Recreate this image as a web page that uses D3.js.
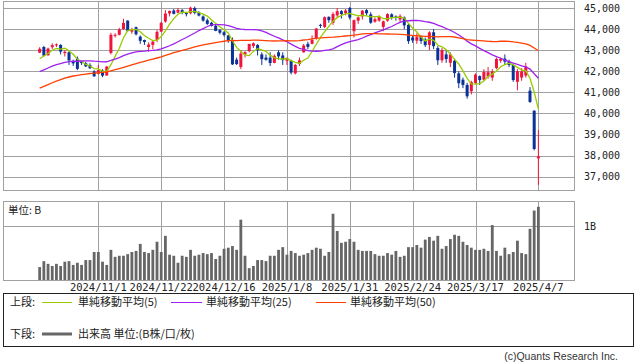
<!DOCTYPE html>
<html><head><meta charset="utf-8">
<script src="https://cdn.jsdelivr.net/npm/d3@7"></script>
<style>body{margin:0;background:#fff}svg{display:block}</style>
</head><body>
<svg id="c" width="638" height="362"></svg>
<script>
const dates=["2024/10/14","2024/10/15","2024/10/16","2024/10/17","2024/10/18","2024/10/21","2024/10/22","2024/10/23","2024/10/24","2024/10/25","2024/10/28","2024/10/29","2024/10/30","2024/10/31","2024/11/1","2024/11/4","2024/11/5","2024/11/6","2024/11/7","2024/11/8","2024/11/11","2024/11/12","2024/11/13","2024/11/14","2024/11/15","2024/11/18","2024/11/19","2024/11/20","2024/11/21","2024/11/22","2024/11/25","2024/11/26","2024/11/27","2024/11/29","2024/12/2","2024/12/3","2024/12/4","2024/12/5","2024/12/6","2024/12/9","2024/12/10","2024/12/11","2024/12/12","2024/12/13","2024/12/16","2024/12/17","2024/12/18","2024/12/19","2024/12/20","2024/12/23","2024/12/24","2024/12/26","2024/12/27","2024/12/30","2024/12/31","2025/1/2","2025/1/3","2025/1/6","2025/1/7","2025/1/8","2025/1/10","2025/1/13","2025/1/14","2025/1/15","2025/1/16","2025/1/17","2025/1/21","2025/1/22","2025/1/23","2025/1/24","2025/1/27","2025/1/28","2025/1/29","2025/1/30","2025/1/31","2025/2/3","2025/2/4","2025/2/5","2025/2/6","2025/2/7","2025/2/10","2025/2/11","2025/2/12","2025/2/13","2025/2/14","2025/2/18","2025/2/19","2025/2/20","2025/2/21","2025/2/24","2025/2/25","2025/2/26","2025/2/27","2025/2/28","2025/3/3","2025/3/4","2025/3/5","2025/3/6","2025/3/7","2025/3/10","2025/3/11","2025/3/12","2025/3/13","2025/3/14","2025/3/17","2025/3/18","2025/3/19","2025/3/20","2025/3/21","2025/3/24","2025/3/25","2025/3/26","2025/3/27","2025/3/28","2025/3/31","2025/4/1","2025/4/2","2025/4/3","2025/4/4","2025/4/7"];

const open=[42880,43150,42760,43140,43230,43250,42860,42900,42480,42600,
42460,42380,42300,41990,41880,42030,41800,42870,43700,43730,
44000,44400,43880,44090,43640,43480,43150,43250,43490,43880,
44360,44740,44880,44780,44900,44760,44750,45000,44770,44600,
44420,44300,44150,43950,43850,43700,43450,42550,42200,42800,
42950,43200,43250,42800,42650,42650,42400,42900,42750,42500,
42500,41900,42350,42900,43300,43300,43550,44200,44100,44580,
44300,44650,44850,44750,45000,43900,44400,44600,44900,44700,
44350,44400,44100,44400,44700,44600,44450,44550,44200,43600,
43450,43650,43500,43250,43850,43100,42520,42800,42400,42500,
41900,41600,41350,41050,41450,41770,41600,41750,41700,42150,
42500,42600,42450,42300,41500,41700,41800,41080,40130,37870];

const high=[43140,43200,43120,43325,43320,43280,43000,42950,42550,42700,
42500,42450,42380,42050,42300,42100,42250,43820,43800,44060,
44490,44420,44060,44120,43700,43500,43370,43470,43950,44350,
44900,44880,44950,45000,44950,44790,45060,45070,44850,44650,
44500,44350,44200,44000,43900,43720,43600,42650,43000,42950,
43300,43370,43280,42900,42800,42900,42800,43000,42900,42650,
42550,42350,42650,43300,43400,43700,44050,44250,44600,44600,
44800,45000,44900,44950,45050,44450,44600,44900,44950,44800,
44550,44650,44400,44750,44750,44650,44700,44600,44250,43700,
43800,43700,43600,43900,44000,43200,43100,43000,42900,42600,
42000,41700,41450,41550,41900,41800,42100,42200,42100,42650,
42650,42800,42550,42350,42100,42150,42400,41250,40150,39215];

const low=[42860,42700,42730,43050,43150,42800,42700,42300,42250,42050,
42300,42200,42120,41730,41850,41720,41780,42800,43600,43700,
43980,43860,43780,43700,43300,43250,42930,43040,43380,43850,
44300,44600,44700,44750,44700,44600,44700,44700,44600,44350,
44200,44120,43900,43750,43650,43350,42300,42300,42100,42650,
42900,43100,42750,42300,42500,42250,42380,42550,42300,42300,
41850,41850,42250,42880,43050,43280,43500,44050,44050,44300,
44200,44550,44500,44650,44450,43600,44250,44450,44650,44250,
44300,44350,43900,44350,44450,44400,44300,44000,43300,43350,
43300,43300,43150,43000,43050,42300,42400,42400,42200,41700,
41200,41200,40700,40900,41400,41350,41550,41650,41550,42100,
42400,42300,42200,41500,41100,41550,41700,40500,38250,36610];

const close=[43065,42740,43078,43239,43276,42932,42925,42515,42374,42114,
42388,42233,42142,41763,42052,41795,42222,43730,43729,43989,
44293,43911,43958,43751,43445,43390,43269,43408,43870,44297,
44737,44860,44722,44911,44782,44706,45014,44766,44643,44402,
44248,44149,43914,43828,43717,43450,42327,42342,42840,42907,
43297,43326,42992,42574,42544,42392,42732,42707,42528,42635,
41938,42297,42518,43222,43153,43488,44026,44157,44565,44424,
44714,44850,44714,44882,44545,44422,44556,44873,44748,44303,
44470,44594,44369,44711,44546,44556,44628,44177,43428,43461,
43621,43433,43240,43841,43191,42521,43007,42579,42802,41912,
41433,41351,40814,41488,41842,41581,41965,41953,41985,42583,
42588,42455,42300,41584,42002,41990,42225,40546,38315,37966];

const volume=[0.24,0.35,0.30,0.26,0.30,0.26,0.34,0.35,0.28,0.32,
0.28,0.37,0.37,0.52,0.52,0.34,0.28,0.56,0.43,0.45,
0.45,0.48,0.52,0.54,0.67,0.52,0.50,0.56,0.71,0.52,
0.82,0.47,0.45,0.32,0.45,0.43,0.56,0.45,0.47,0.50,
0.48,0.50,0.39,0.45,0.58,0.60,0.63,0.56,1.12,0.45,
0.22,0.26,0.37,0.37,0.35,0.45,0.45,0.56,0.61,0.47,
0.54,0.50,0.45,0.47,0.50,0.56,0.60,0.58,0.45,0.52,
1.23,0.91,0.69,0.71,0.76,0.71,0.56,0.54,0.54,0.54,
0.48,0.45,0.45,0.50,0.47,0.54,0.43,0.45,0.61,0.61,
0.65,0.60,0.75,0.80,0.73,0.82,0.58,0.63,0.76,0.84,
0.82,0.71,0.65,0.60,0.56,0.56,0.58,0.54,1.02,0.54,
0.45,0.60,0.48,0.52,0.73,0.50,0.48,0.95,1.29,1.36];

const ma5=[42595,42727,42840,42997,43080,43053,43090,42977,42804,42572,
42463,42325,42250,42128,42116,41997,41995,42312,42706,43093,
43593,43930,43976,43980,43872,43691,43563,43453,43476,43647,
43916,44234,44497,44705,44802,44796,44827,44836,44782,44706,
44615,44442,44271,44108,43971,43812,43447,43133,42935,42773,
42743,42942,43072,43019,42947,42766,42647,42590,42581,42599,
42508,42421,42383,42522,42626,42936,43281,43609,43878,44132,
44377,44542,44653,44717,44741,44683,44624,44656,44629,44580,
44590,44598,44497,44489,44538,44555,44562,44524,44267,44050,
43863,43624,43437,43519,43465,43245,43160,43028,42820,42564,
42347,42015,41662,41400,41386,41415,41538,41766,41865,42013,
42215,42313,42382,42302,42186,42066,42020,41669,41016,40208];

const ma25=[41985,42065,42154,42239,42315,42367,42420,42460,42474,42476,
42487,42488,42497,42480,42470,42449,42451,42512,42581,42647,
42740,42813,42871,42923,42946,42959,42981,42994,43019,43060,
43132,43209,43298,43399,43506,43599,43710,43815,43930,44024,
44122,44199,44207,44211,44200,44166,44103,44038,44001,43980,
43976,43979,43962,43910,43840,43746,43661,43580,43485,43399,
43288,43180,43090,43033,42983,42953,42948,42957,42987,43015,
43066,43167,43262,43343,43409,43454,43503,43578,43665,43736,
43819,43893,43960,44047,44123,44228,44321,44388,44396,44408,
44414,44390,44353,44324,44275,44187,44113,44028,43945,43840,
43720,43592,43429,43299,43201,43085,42980,42883,42774,42696,
42617,42530,42455,42381,42323,42258,42209,42102,41880,41671];

const ma50=[41204,41285,41367,41456,41533,41601,41673,41728,41775,41806,
41841,41867,41894,41911,41938,41950,41970,42019,42072,42125,
42180,42239,42299,42359,42421,42472,42523,42574,42629,42687,
42750,42815,42879,42937,42991,43043,43099,43156,43205,43247,
43285,43325,43360,43396,43423,43453,43458,43455,43462,43463,
43468,43480,43478,43465,43450,43439,43435,43439,43442,43453,
43444,43445,43452,43482,43504,43537,43573,43582,43599,43607,
43616,43635,43650,43672,43694,43715,43741,43770,43788,43788,
43782,43777,43770,43766,43761,43758,43751,43739,43715,43696,
43683,43669,43655,43656,43645,43627,43640,43645,43644,43624,
43587,43547,43504,43482,43468,43452,43437,43421,43411,43410,
43423,43426,43421,43389,43366,43336,43300,43227,43102,42973];

const priceTicks=[37000,38000,39000,40000,41000,42000,43000,44000,45000];
const volumeTicks=[1];
const xTickLabels=["2024/11/1","2024/11/22","2024/12/16","2025/1/8","2025/1/31","2025/2/24","2025/3/17","2025/4/7"];
const maLegend=["単純移動平均(5)","単純移動平均(25)","単純移動平均(50)"];
const volLegend="出来高 単位:(B株/口/枚)";

const svg=d3.select("#c");
const L=3.5,R=574.5,PT=1.5,PB=190.5,VT=201.5,VB=280.5;
const x=d3.scaleLinear().domain([-8.75,127.5]).range([3,574]);
const y=d3.scaleLinear().domain([36370,45308]).range([190,1.5]);
const yv=d3.scaleLinear().domain([0,1.467]).range([280,201]);
const grid="#a0a0a0";
const UP="#f0143c",DN="#0a3296";
const mono="'DejaVu Sans Mono',monospace";
const jp="'Noto Sans CJK JP',sans-serif";
const crisp=v=>Math.round(v)+0.5;
const tickIdx=xTickLabels.map(d=>dates.indexOf(d));

// grids
const g=svg.append("g").attr("stroke",grid).attr("stroke-width",1).attr("fill","none");
priceTicks.forEach(v=>g.append("line").attr("x1",L).attr("x2",R).attr("y1",crisp(y(v))).attr("y2",crisp(y(v))));
volumeTicks.forEach(v=>g.append("line").attr("x1",L).attr("x2",R).attr("y1",crisp(yv(v))).attr("y2",crisp(yv(v))));
tickIdx.forEach(i=>{
  const xx=crisp(x(i));
  g.append("line").attr("x1",xx).attr("x2",xx).attr("y1",PT).attr("y2",PB);
  g.append("line").attr("x1",xx).attr("x2",xx).attr("y1",VT).attr("y2",VB);
});
g.append("rect").attr("x",L).attr("y",PT).attr("width",R-L).attr("height",PB-PT);
g.append("rect").attr("x",L).attr("y",VT).attr("width",R-L).attr("height",VB-VT);

// price axis labels
svg.append("g").selectAll("text").data(priceTicks).join("text")
  .attr("x",584).attr("y",d=>y(d)+3.6).attr("font-family",mono).attr("font-size",10)
  .attr("fill","#222").text(d=>d3.format(",")(d));
svg.append("g").selectAll("text").data(volumeTicks).join("text")
  .attr("x",584).attr("y",d=>yv(d)+3.6).attr("font-family",mono).attr("font-size",10)
  .attr("fill","#222").text(d=>d+"B");

// x labels
svg.append("g").selectAll("text").data(xTickLabels).join("text")
  .attr("x",d=>x(dates.indexOf(d))).attr("y",291).attr("text-anchor","middle")
  .attr("font-family",mono).attr("font-size",10.5).attr("fill","#222").text(d=>d);

// unit label
svg.append("text").attr("x",8).attr("y",214).attr("font-family",jp).attr("font-size",10.5).attr("fill","#222").text("単位: B");

// volume bars
svg.append("g").selectAll("rect").data(volume).join("rect")
  .attr("x",(d,i)=>x(i)-1.4).attr("width",2.8)
  .attr("y",d=>yv(d)).attr("height",d=>280-yv(d)).attr("fill","#666");

// candles
const cg=svg.append("g");
dates.forEach((d,i)=>{
  const col=close[i]>=open[i]?UP:DN;
  const cx=x(i);
  cg.append("line").attr("x1",cx).attr("x2",cx).attr("y1",y(high[i])).attr("y2",y(low[i]))
    .attr("stroke",col).attr("stroke-width",1);
  const t=y(Math.max(open[i],close[i])),b=y(Math.min(open[i],close[i]));
  cg.append("rect").attr("x",cx-1.5).attr("width",3).attr("y",t).attr("height",Math.max(1,b-t)).attr("fill",col);
});

// moving averages
const line=d3.line().x((d,i)=>x(i)).y(d=>y(d));
const maColors=["#99cc00","#a020f0","#ff4000"];
[ma5,ma25,ma50].forEach((arr,k)=>{
  svg.append("path").datum(arr).attr("d",line).attr("fill","none")
    .attr("stroke",maColors[k]).attr("stroke-width",1.3);
});

// legend
svg.append("rect").attr("x",3.5).attr("y",293.5).attr("width",630).attr("height",53).attr("fill","none").attr("stroke","#222").attr("stroke-width",1);
const lg=svg.append("g").attr("font-family",jp).attr("font-size",11).attr("fill","#222");
lg.append("text").attr("x",10).attr("y",306).text("上段:");
const legX=[[42,72,78],[171,202,206],[316,346,350]];
maLegend.forEach((t,k)=>{
  lg.append("line").attr("x1",legX[k][0]).attr("x2",legX[k][1]).attr("y1",302.5).attr("y2",302.5).attr("stroke",maColors[k]).attr("stroke-width",1);
  lg.append("text").attr("x",legX[k][2]).attr("y",306).text(t);
});
lg.append("text").attr("x",10).attr("y",338).text("下段:");
lg.append("line").attr("x1",42).attr("x2",72).attr("y1",334).attr("y2",334).attr("stroke","#666").attr("stroke-width",3);
lg.append("text").attr("x",78).attr("y",338).text(volLegend);

svg.append("text").attr("x",618).attr("y",360).attr("text-anchor","end")
  .attr("font-family","'Liberation Sans',sans-serif").attr("font-size",10.5).attr("fill","#333").text("(c)Quants Research Inc.");
</script>
</body></html>
